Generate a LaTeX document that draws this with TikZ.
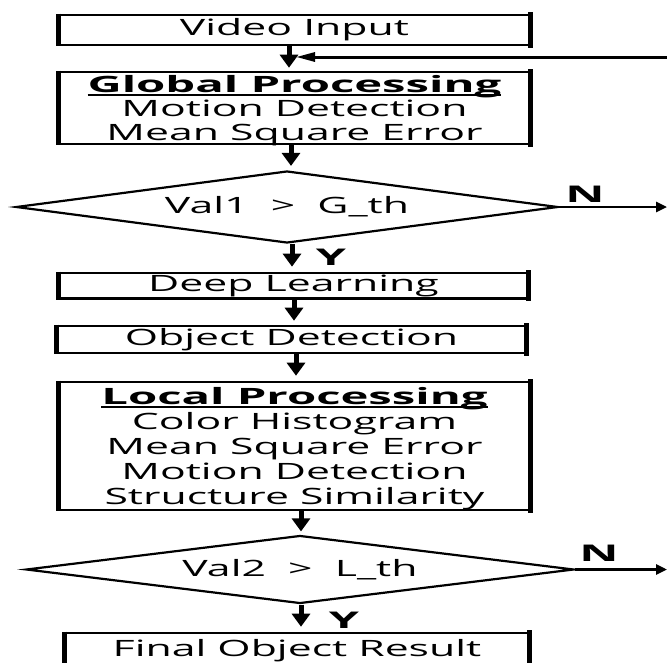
\documentclass[tikz,border=0pt]{standalone}
\usepackage{fontspec}
\setmainfont{Open Sans}[FakeStretch=1.9, BoldFont={Open Sans Bold}, BoldFeatures={FakeStretch=2.1}]
\usetikzlibrary{shapes.geometric,arrows.meta}
\newsavebox{\ulsave}
\newcommand{\ulhead}[1]{\sbox{\ulsave}{\textbf{#1}}\rlap{\rule[-3.5pt]{\wd\ulsave}{2.2pt}}\usebox{\ulsave}}
\begin{document}
\begin{tikzpicture}[x=1pt,y=-1pt,
  txt/.style={font=\fontsize{22.5}{25.5}\selectfont, align=center},
  box/.style={draw, line width=2.6pt, inner sep=0pt, txt},
  plain/.style={inner sep=0pt, anchor=north, txt},
  dia/.style={draw, shape=diamond, aspect=7.5, line width=2.2pt, inner sep=0pt, txt},
  varr/.style={line width=5pt, -{Triangle[length=13pt,width=18pt]}},
  harr/.style={line width=2.6pt, -{Triangle[length=11pt,width=10pt]}},
  fbarr/.style={line width=3pt, -{Triangle[length=19pt,width=9pt]}},
  lbl/.style={font=\fontsize{23}{23}\selectfont\bfseries, inner sep=0pt},
  vside/.style={line width=4.5pt, shorten <=-1.3pt, shorten >=-1.3pt}
]
\useasboundingbox (0,0) rectangle (667,662);
\node[box, minimum width=469pt, minimum height=30pt] (video) at (294.5,30) {Video Input};
\node[box, minimum width=469pt, minimum height=72pt] (global) at (294.5,108) {};
\node[plain, font=\fontsize{22.5}{23.8}\selectfont] (gtext) at (294.5,75.5)
  {\ulhead{Global Processing}\\Motion Detection\\Mean Square Error};
\node[dia, minimum width=542pt, minimum height=72pt] (d1) at (287,207) {Val1~~>~~G\_th};
\node[box, minimum width=467pt, minimum height=25.5pt] (deep) at (293.5,285.7) {Deep Learning};
\node[box, minimum width=467pt, minimum height=27pt] (obj) at (291.5,339.5) {Object Detection};
\node[box, minimum width=469pt, minimum height=128pt] (local) at (294.5,446) {};
\node[plain, font=\fontsize{22.5}{25}\selectfont] (ltext) at (294.5,387)
  {\ulhead{Local Processing}\\Color Histogram\\Mean Square Error\\Motion Detection\\Structure Similarity};
\node[dia, minimum width=548pt, minimum height=68pt] (d2) at (300,569.5) {Val2~~>~~L\_th};
\node[box, minimum width=462pt, minimum height=36pt] (final) at (297,651) {Final Object Result};
\foreach \n in {video,global,deep,obj,local,final}
  \draw[vside] (\n.north west) -- (\n.south west) (\n.north east) -- (\n.south east);
% vertical arrows
\draw[varr, shorten >=3pt] (video.south -| 289,0) -- (global.north -| 289,0);
\draw[varr, shorten >=4pt] (global.south -| 291,0) -- (d1.north -| 291,0);
\draw[varr, shorten >=5pt] (d1.south -| 292,0) -- (deep.north -| 292,0);
\draw[varr, shorten >=4pt] (deep.south -| 294,0) -- (obj.north -| 294,0);
\draw[varr, shorten >=5pt] (obj.south -| 296,0) -- (local.north -| 296,0);
\draw[varr, shorten >=3pt] (local.south -| 301,0) -- (d2.north -| 301,0);
\draw[varr, shorten >=5pt] (d2.south -| 301,0) -- (final.north -| 301,0);
% feedback and N exits
\coordinate (fbin) at (667,57);
\coordinate (fbtip) at (296,57);
\draw[fbarr] (fbin) -- (fbtip);
\coordinate (n1out) at (667,207);
\coordinate (n2out) at (667,569.5);
\draw[harr] (d1.east) -- (n1out);
\draw[harr] (d2.east) -- (n2out);
% labels
\node[lbl] (ln1) at (585,194) {N};
\node[lbl] (ly1) at (331,257) {Y};
\node[lbl] (ln2) at (599,553) {N};
\node[lbl] (ly2) at (344,620) {Y};
\end{tikzpicture}
\end{document}
